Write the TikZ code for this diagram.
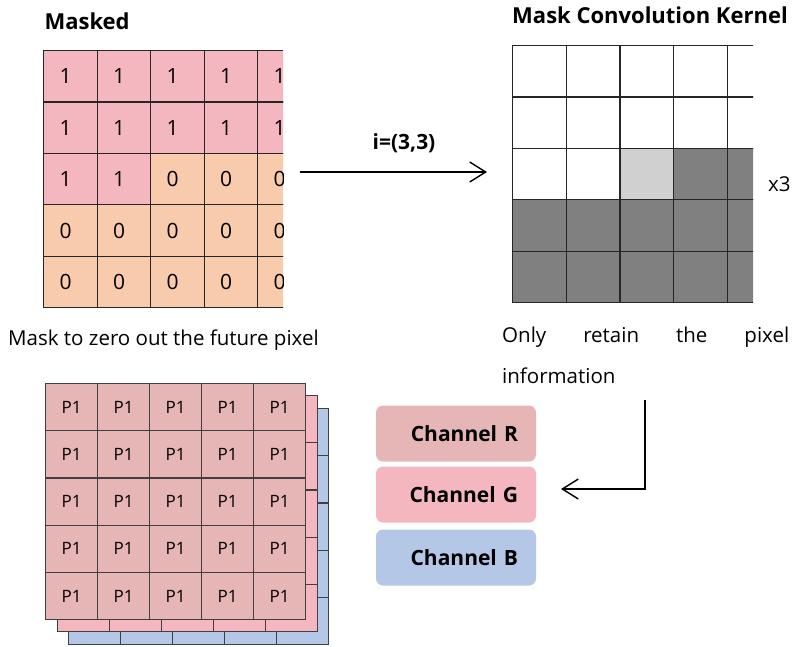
\documentclass[tikz,border=0pt]{standalone}
\usepackage{fontspec}
\setmainfont{Open Sans}
\usepackage{tikz}
\usetikzlibrary{arrows.meta}

\definecolor{maskpink}{HTML}{F4B6BF}
\definecolor{maskpeach}{HTML}{F8CBAD}
\definecolor{kerneldark}{HTML}{808080}
\definecolor{kernellight}{HTML}{D0D0D0}
\definecolor{chanR}{HTML}{E6B5B5}
\definecolor{chanG}{HTML}{F4B6BF}
\definecolor{chanB}{HTML}{B4C7E7}

\begin{document}
\begin{tikzpicture}[x=1pt, y=-1pt,
    gridline/.style={draw=black!85, line width=1.2pt},
    maskcell/.style={gridline, anchor=north west, minimum width=53.5pt, minimum height=51.4pt,
        inner ysep=0pt, inner xsep=16pt, text width=21.5pt, align=left, font=\fontsize{21}{25}\selectfont},
    kernelcell/.style={gridline, anchor=north west, minimum width=53.7pt, minimum height=51.4pt, inner sep=0pt},
    pixcell/.style={draw=black!75, line width=1.2pt, anchor=north west, minimum width=52pt,
        minimum height=47.2pt, inner sep=0pt, font=\fontsize{17}{20}\selectfont},
    channel/.style={rounded corners=7pt, minimum height=56pt, inner ysep=0pt, inner xsep=18pt,
        text width=124pt, align=right, font=\bfseries\fontsize{21}{25}\selectfont},
    title/.style={font=\bfseries\fontsize{22}{26}\selectfont},
    caption/.style={font=\fontsize{20.5}{24}\selectfont, inner sep=0pt},
    flow/.style={line width=1.4pt, -{Straight Barb[length=16pt,width=20pt]}}
]
    \useasboundingbox (0,0) rectangle (796,646);

    \node[title, anchor=west] (maskedtitle) at (41,21) {Masked};
    \node[title] (kerneltitle) at (650,15) {Mask Convolution Kernel};

    % mask values, last column cut off
    \begin{scope}
        \clip (38,45) rectangle (283,312);
        \foreach \r in {1,...,5}
            \foreach \c in {1,...,5} {
                \pgfmathtruncatemacro\val{or(\r<3, and(\r==3, \c<3))}
                \ifnum\val=1 \def\cellcol{maskpink}\else\def\cellcol{maskpeach}\fi
                \node[maskcell, fill=\cellcol] (m-\r-\c) at ({43+53.5*(\c-1)}, {50+51.4*(\r-1)}) {\val};
            }
    \end{scope}

    % kernel
    \begin{scope}
        \clip (508,40) rectangle (753,306);
        \foreach \r in {1,...,5}
            \foreach \c in {1,...,5} {
                \ifnum\r<3 \def\cellcol{white}\else
                    \ifnum\r>3 \def\cellcol{kerneldark}\else
                        \ifnum\c<3 \def\cellcol{white}\else
                            \ifnum\c=3 \def\cellcol{kernellight}\else\def\cellcol{kerneldark}\fi
                        \fi
                    \fi
                \fi
                \node[kernelcell, fill=\cellcol] (k-\r-\c) at ({512+53.7*(\c-1)}, {45+51.4*(\r-1)}) {};
            }
    \end{scope}
    \node[caption, anchor=base west] (times) at (768,191) {x3};

    \node[font=\bfseries\fontsize{21}{25}\selectfont] (poslabel) at (404,143) {i=(3,3)};
    \coordinate (flowstart) at (300,172);
    \coordinate (flowend) at (487,172);
    \draw[flow] (flowstart) -- (flowend);

    \node[caption, anchor=base west] (maskcaption) at (8,345) {Mask to zero out the future pixel};
    \node[caption, anchor=base west] (retaintop) at (502,342) {\makebox[287pt][s]{Only retain the pixel}};
    \node[caption, anchor=base west] (retainbottom) at (502,383) {information};

    % stacked channels, back to front
    \foreach \layer/\dx/\dy/\col in {blue/23/25/chanB, pink/12/12/chanG}
        \foreach \r in {1,...,5}
            \foreach \c in {1,...,5}
                \node[pixcell, fill=\col] (\layer-\r-\c) at ({45+\dx+52*(\c-1)}, {383+\dy+47.2*(\r-1)}) {};
    \foreach \r in {1,...,5}
        \foreach \c in {1,...,5}
            \node[pixcell, fill=chanR] (p-\r-\c) at ({45+52*(\c-1)}, {383+47.2*(\r-1)}) {P1};

    \node[channel, fill=chanR] (chR) at (456,433.5) {Channel R};
    \node[channel, fill=chanG] (chG) at (456,494.5) {Channel G};
    \node[channel, fill=chanB] (chB) at (456,557.5) {Channel B};

    \coordinate (backstart) at (645,400);
    \coordinate (backend) at (561,489);
    \draw[flow] (backstart) |- (backend);
\end{tikzpicture}
\end{document}
